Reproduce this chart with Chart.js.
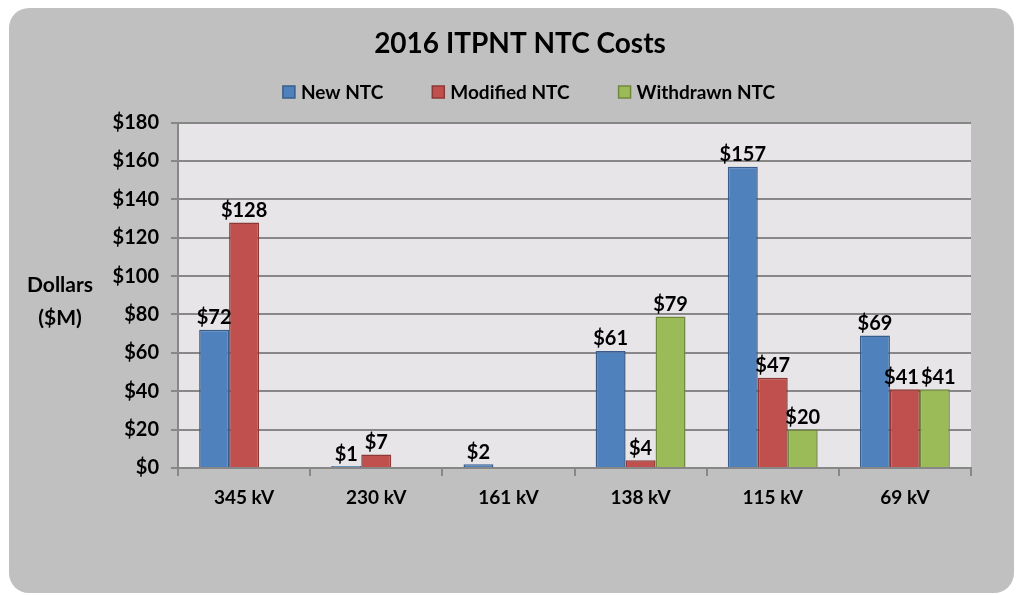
<!DOCTYPE html>
<html>
<head>
<meta charset="utf-8">
<script src="https://cdn.jsdelivr.net/npm/chart.js@4"></script>
<style>
  html, body { margin: 0; padding: 0; background: #fff; }
  #wrap { width: 1017px; height: 595px; }
</style>
</head>
<body>
<div id="wrap"><canvas id="chart"></canvas></div>
<script>
  const categories = ['345 kV', '230 kV', '161 kV', '138 kV', '115 kV', '69 kV'];
  const newNtc = [72, 1, 2, 61, 157, 69];
  const modifiedNtc = [128, 7, null, 4, 47, 41];
  const withdrawnNtc = [null, null, null, 79, 20, 41];
  const seriesNames = ['New NTC', 'Modified NTC', 'Withdrawn NTC'];

  const FONT = 'Lato, "Open Sans", sans-serif';
  const GRID = '#878787';

  // gray panel + light plot background
  const panelBg = {
    id: 'panelBg',
    beforeDraw(chart) {
      const { ctx, chartArea } = chart;
      ctx.save();
      ctx.fillStyle = '#ffffff';
      ctx.fillRect(0, 0, chart.width, chart.height);
      ctx.fillStyle = '#c0c0c0';
      ctx.beginPath();
      ctx.roundRect(9, 8, chart.width - 12, chart.height - 10, 20);
      ctx.fill();
      ctx.fillStyle = '#e7e5e8';
      ctx.fillRect(chartArea.left, chartArea.top, chartArea.right - chartArea.left, chartArea.bottom - chartArea.top);
      ctx.restore();
    }
  };

  // "$72" style labels above bars, nudged apart when neighbours collide
  const valueLabels = {
    id: 'valueLabels',
    afterDatasetsDraw(chart) {
      const { ctx } = chart;
      ctx.save();
      ctx.font = 'bold 20px ' + FONT;
      ctx.fillStyle = '#000';
      ctx.textAlign = 'center';
      ctx.textBaseline = 'bottom';
      chart.data.labels.forEach((_, j) => {
        const group = [];
        chart.data.datasets.forEach((ds, i) => {
          const v = ds.data[j];
          if (v === null || v === undefined) return;
          const bar = chart.getDatasetMeta(i).data[j];
          const text = '$' + v;
          group.push({ text, x: bar.x, y: bar.y - 2, w: ctx.measureText(text).width });
        });
        for (let k = 1; k < group.length; k++) {
          const a = group[k - 1], b = group[k];
          const overlap = (a.x + a.w / 2 + 2) - (b.x - b.w / 2);
          if (overlap > 0 && Math.abs(a.y - b.y) < 18) {
            a.x -= overlap / 2;
            b.x += overlap / 2;
          }
        }
        group.forEach(l => ctx.fillText(l.text, l.x, l.y));
      });
      ctx.restore();
    }
  };

  // legend row and horizontal y title
  const extras = {
    id: 'extras',
    afterDraw(chart) {
      const { ctx } = chart;
      ctx.save();
      ctx.font = 'bold 19px ' + FONT;
      ctx.textBaseline = 'middle';
      ctx.textAlign = 'left';
      const box = 12, gapText = 6, gapItem = 49, legendY = 92, legendCenter = 529;
      const items = chart.data.datasets.map(ds => ({
        text: ds.label, fill: ds.backgroundColor, stroke: ds.borderColor,
        w: box + gapText + ctx.measureText(ds.label).width
      }));
      const total = items.reduce((s, it) => s + it.w, 0) + gapItem * (items.length - 1);
      let x = legendCenter - total / 2;
      items.forEach(it => {
        ctx.fillStyle = it.fill;
        ctx.fillRect(x, legendY - box / 2, box, box);
        ctx.strokeStyle = it.stroke;
        ctx.lineWidth = 1.5;
        ctx.strokeRect(x, legendY - box / 2, box, box);
        ctx.fillStyle = '#000';
        ctx.fillText(it.text, x + box + gapText, legendY + 1);
        x += it.w + gapItem;
      });

      ctx.font = 'bold 21px ' + FONT;
      ctx.textAlign = 'center';
      ctx.fillText('Dollars', 60, 285);
      ctx.fillText('($M)', 60, 318);
      ctx.restore();
    }
  };

  const ctx = document.getElementById('chart').getContext('2d');
  new Chart(ctx, {
    type: 'bar',
    data: {
      labels: categories,
      datasets: [
        { label: seriesNames[0], data: newNtc, backgroundColor: '#4f81bd', borderColor: '#385d8a' },
        { label: seriesNames[1], data: modifiedNtc, backgroundColor: '#c0504d', borderColor: '#8c3836' },
        { label: seriesNames[2], data: withdrawnNtc, backgroundColor: '#9bbb59', borderColor: '#71893f' }
      ]
    },
    options: {
      responsive: true,
      maintainAspectRatio: false,
      animation: false,
      layout: { padding: { left: 69, right: 46, top: 0, bottom: 0 } },
      datasets: {
        bar: {
          categoryPercentage: 0.68,
          barPercentage: 1,
          borderWidth: 1.5
        }
      },
      scales: {
        x: {
          grid: { drawOnChartArea: false, drawTicks: true, tickLength: 8, color: GRID, lineWidth: 2 },
          border: { color: GRID, width: 2 },
          ticks: { color: '#000', padding: 10, font: { family: FONT, size: 19, weight: 'bold' } },
          afterFit(scale) { scale.height = 127; }
        },
        y: {
          min: 0,
          max: 180,
          ticks: {
            stepSize: 20,
            color: '#000',
            padding: 12,
            font: { family: FONT, size: 20, weight: 'bold' },
            callback: v => '$' + v
          },
          grid: { color: GRID, lineWidth: 2, tickLength: 7 },
          border: { color: GRID, width: 2 },
          afterFit(scale) { scale.width = 109; }
        }
      },
      plugins: {
        legend: { display: false },
        tooltip: { enabled: false },
        title: {
          display: true,
          text: '2016 ITPNT NTC Costs',
          color: '#000',
          font: { family: FONT, size: 28, weight: 'bold' },
          padding: { top: 27, bottom: 62 }
        }
      }
    },
    plugins: [panelBg, valueLabels, extras]
  });
</script>
</body>
</html>
